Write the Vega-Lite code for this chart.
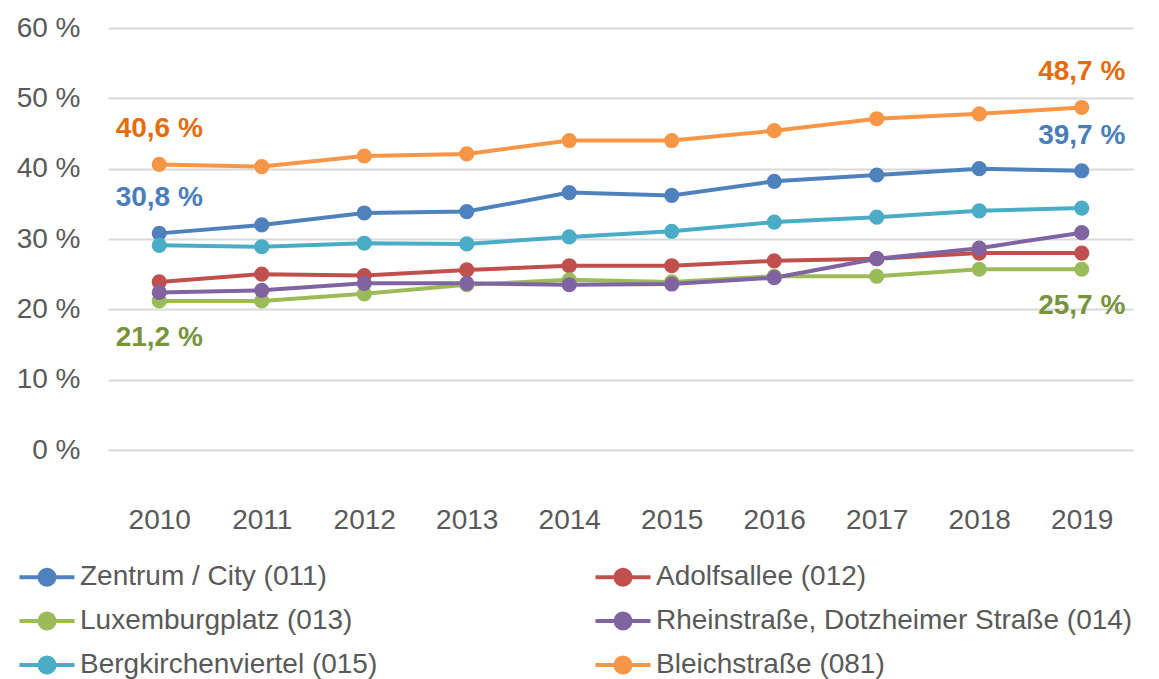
{
  "$schema": "https://vega.github.io/schema/vega-lite/v6.json",
  "width": 1025,
  "height": 422,
  "autosize": {"type": "none"},
  "padding": {"left": 108, "top": 28, "right": 26, "bottom": 229},
  "background": "white",
  "config": {"view": {"stroke": null}, "font": "Liberation Sans"},
  "datasets": {
    "lines": [
      {"series": "Zentrum / City (011)", "year": "2010", "value": 30.8},
      {"series": "Zentrum / City (011)", "year": "2011", "value": 32.0},
      {"series": "Zentrum / City (011)", "year": "2012", "value": 33.7},
      {"series": "Zentrum / City (011)", "year": "2013", "value": 33.9},
      {"series": "Zentrum / City (011)", "year": "2014", "value": 36.6},
      {"series": "Zentrum / City (011)", "year": "2015", "value": 36.2},
      {"series": "Zentrum / City (011)", "year": "2016", "value": 38.2},
      {"series": "Zentrum / City (011)", "year": "2017", "value": 39.1},
      {"series": "Zentrum / City (011)", "year": "2018", "value": 40.0},
      {"series": "Zentrum / City (011)", "year": "2019", "value": 39.7},
      {"series": "Adolfsallee (012)", "year": "2010", "value": 23.9},
      {"series": "Adolfsallee (012)", "year": "2011", "value": 25.0},
      {"series": "Adolfsallee (012)", "year": "2012", "value": 24.8},
      {"series": "Adolfsallee (012)", "year": "2013", "value": 25.6},
      {"series": "Adolfsallee (012)", "year": "2014", "value": 26.2},
      {"series": "Adolfsallee (012)", "year": "2015", "value": 26.2},
      {"series": "Adolfsallee (012)", "year": "2016", "value": 26.9},
      {"series": "Adolfsallee (012)", "year": "2017", "value": 27.2},
      {"series": "Adolfsallee (012)", "year": "2018", "value": 28.0},
      {"series": "Adolfsallee (012)", "year": "2019", "value": 28.0},
      {"series": "Luxemburgplatz (013)", "year": "2010", "value": 21.2},
      {"series": "Luxemburgplatz (013)", "year": "2011", "value": 21.2},
      {"series": "Luxemburgplatz (013)", "year": "2012", "value": 22.2},
      {"series": "Luxemburgplatz (013)", "year": "2013", "value": 23.5},
      {"series": "Luxemburgplatz (013)", "year": "2014", "value": 24.2},
      {"series": "Luxemburgplatz (013)", "year": "2015", "value": 23.9},
      {"series": "Luxemburgplatz (013)", "year": "2016", "value": 24.7},
      {"series": "Luxemburgplatz (013)", "year": "2017", "value": 24.7},
      {"series": "Luxemburgplatz (013)", "year": "2018", "value": 25.7},
      {"series": "Luxemburgplatz (013)", "year": "2019", "value": 25.7},
      {"series": "Rheinstraße, Dotzheimer Straße (014)", "year": "2010", "value": 22.4},
      {"series": "Rheinstraße, Dotzheimer Straße (014)", "year": "2011", "value": 22.7},
      {"series": "Rheinstraße, Dotzheimer Straße (014)", "year": "2012", "value": 23.7},
      {"series": "Rheinstraße, Dotzheimer Straße (014)", "year": "2013", "value": 23.7},
      {"series": "Rheinstraße, Dotzheimer Straße (014)", "year": "2014", "value": 23.5},
      {"series": "Rheinstraße, Dotzheimer Straße (014)", "year": "2015", "value": 23.6},
      {"series": "Rheinstraße, Dotzheimer Straße (014)", "year": "2016", "value": 24.5},
      {"series": "Rheinstraße, Dotzheimer Straße (014)", "year": "2017", "value": 27.2},
      {"series": "Rheinstraße, Dotzheimer Straße (014)", "year": "2018", "value": 28.7},
      {"series": "Rheinstraße, Dotzheimer Straße (014)", "year": "2019", "value": 30.9},
      {"series": "Bergkirchenviertel (015)", "year": "2010", "value": 29.1},
      {"series": "Bergkirchenviertel (015)", "year": "2011", "value": 28.9},
      {"series": "Bergkirchenviertel (015)", "year": "2012", "value": 29.4},
      {"series": "Bergkirchenviertel (015)", "year": "2013", "value": 29.3},
      {"series": "Bergkirchenviertel (015)", "year": "2014", "value": 30.3},
      {"series": "Bergkirchenviertel (015)", "year": "2015", "value": 31.1},
      {"series": "Bergkirchenviertel (015)", "year": "2016", "value": 32.4},
      {"series": "Bergkirchenviertel (015)", "year": "2017", "value": 33.1},
      {"series": "Bergkirchenviertel (015)", "year": "2018", "value": 34.0},
      {"series": "Bergkirchenviertel (015)", "year": "2019", "value": 34.4},
      {"series": "Bleichstraße (081)", "year": "2010", "value": 40.6},
      {"series": "Bleichstraße (081)", "year": "2011", "value": 40.3},
      {"series": "Bleichstraße (081)", "year": "2012", "value": 41.8},
      {"series": "Bleichstraße (081)", "year": "2013", "value": 42.1},
      {"series": "Bleichstraße (081)", "year": "2014", "value": 44.0},
      {"series": "Bleichstraße (081)", "year": "2015", "value": 44.0},
      {"series": "Bleichstraße (081)", "year": "2016", "value": 45.4},
      {"series": "Bleichstraße (081)", "year": "2017", "value": 47.1},
      {"series": "Bleichstraße (081)", "year": "2018", "value": 47.8},
      {"series": "Bleichstraße (081)", "year": "2019", "value": 48.7}
    ],
    "labels": [
      {"series": "Bleichstraße (081)", "year": "2010", "value": 40.6, "label": "40,6 %"},
      {"series": "Bleichstraße (081)", "year": "2019", "value": 48.7, "label": "48,7 %"},
      {"series": "Zentrum / City (011)", "year": "2010", "value": 30.8, "label": "30,8 %"},
      {"series": "Zentrum / City (011)", "year": "2019", "value": 39.7, "label": "39,7 %"},
      {"series": "Luxemburgplatz (013)", "year": "2010", "value": 21.2, "label": "21,2 %"},
      {"series": "Luxemburgplatz (013)", "year": "2019", "value": 25.7, "label": "25,7 %"}
    ]
  },
  "encoding": {
    "x": {
      "field": "year", "type": "ordinal", "scale": {"padding": 0.5},
      "axis": {"title": null, "labelAngle": 0, "labelFontSize": 28, "labelColor": "#595959", "domain": false, "ticks": false, "grid": false, "labelPadding": 56}
    },
    "y": {
      "field": "value", "type": "quantitative", "scale": {"domain": [0, 60], "nice": false},
      "axis": {"title": null, "values": [0, 10, 20, 30, 40, 50, 60], "labelExpr": "datum.value + ' %'", "labelFontSize": 28, "labelColor": "#595959", "domain": false, "ticks": false, "gridColor": "#d9d9d9", "gridWidth": 2, "labelPadding": 28}
    }
  },
  "layer": [
    {
      "data": {"name": "lines"},
      "mark": {"type": "line", "strokeWidth": 4, "point": {"filled": true, "size": 230, "opacity": 1}},
      "encoding": {
        "color": {
          "field": "series", "type": "nominal",
          "scale": {
            "domain": ["Zentrum / City (011)", "Adolfsallee (012)", "Luxemburgplatz (013)", "Rheinstraße, Dotzheimer Straße (014)", "Bergkirchenviertel (015)", "Bleichstraße (081)"],
            "range": ["#4F81BD", "#C0504D", "#9BBB59", "#8064A2", "#4BACC6", "#F79646"]
          },
          "legend": {
            "title": null, "orient": "none", "legendX": -75, "legendY": 535, "columns": 2, "direction": "horizontal",
            "labelFontSize": 28, "labelColor": "#595959", "labelFont": "Liberation Sans", "labelLimit": 0,
            "symbolType": "M-3.67,0H3.67M-1,0A1,1 0 1,0 1,0A1,1 0 1,0 -1,0",
            "symbolSize": 225, "symbolStrokeWidth": 4, "labelOffset": 19,
            "rowPadding": 12, "columnPadding": 209,
            "encode": {"symbols": {"update": {"fill": {"scale": "color", "field": "value"}, "stroke": {"scale": "color", "field": "value"}, "opacity": {"value": 1}}}}
          }
        }
      }
    },
    {
      "data": {"name": "labels"},
      "transform": [{"filter": "datum.series === 'Bleichstraße (081)'"}],
      "mark": {"type": "text", "fontSize": 28, "fontWeight": "bold", "dy": -35, "baseline": "middle", "color": "#E46C0A"},
      "encoding": {"text": {"field": "label"}}
    },
    {
      "data": {"name": "labels"},
      "transform": [{"filter": "datum.series === 'Zentrum / City (011)'"}],
      "mark": {"type": "text", "fontSize": 28, "fontWeight": "bold", "dy": -35, "baseline": "middle", "color": "#4A7EBB"},
      "encoding": {"text": {"field": "label"}}
    },
    {
      "data": {"name": "labels"},
      "transform": [{"filter": "datum.series === 'Luxemburgplatz (013)'"}],
      "mark": {"type": "text", "fontSize": 28, "fontWeight": "bold", "dy": 37, "baseline": "middle", "color": "#77933C"},
      "encoding": {"text": {"field": "label"}}
    }
  ]
}
